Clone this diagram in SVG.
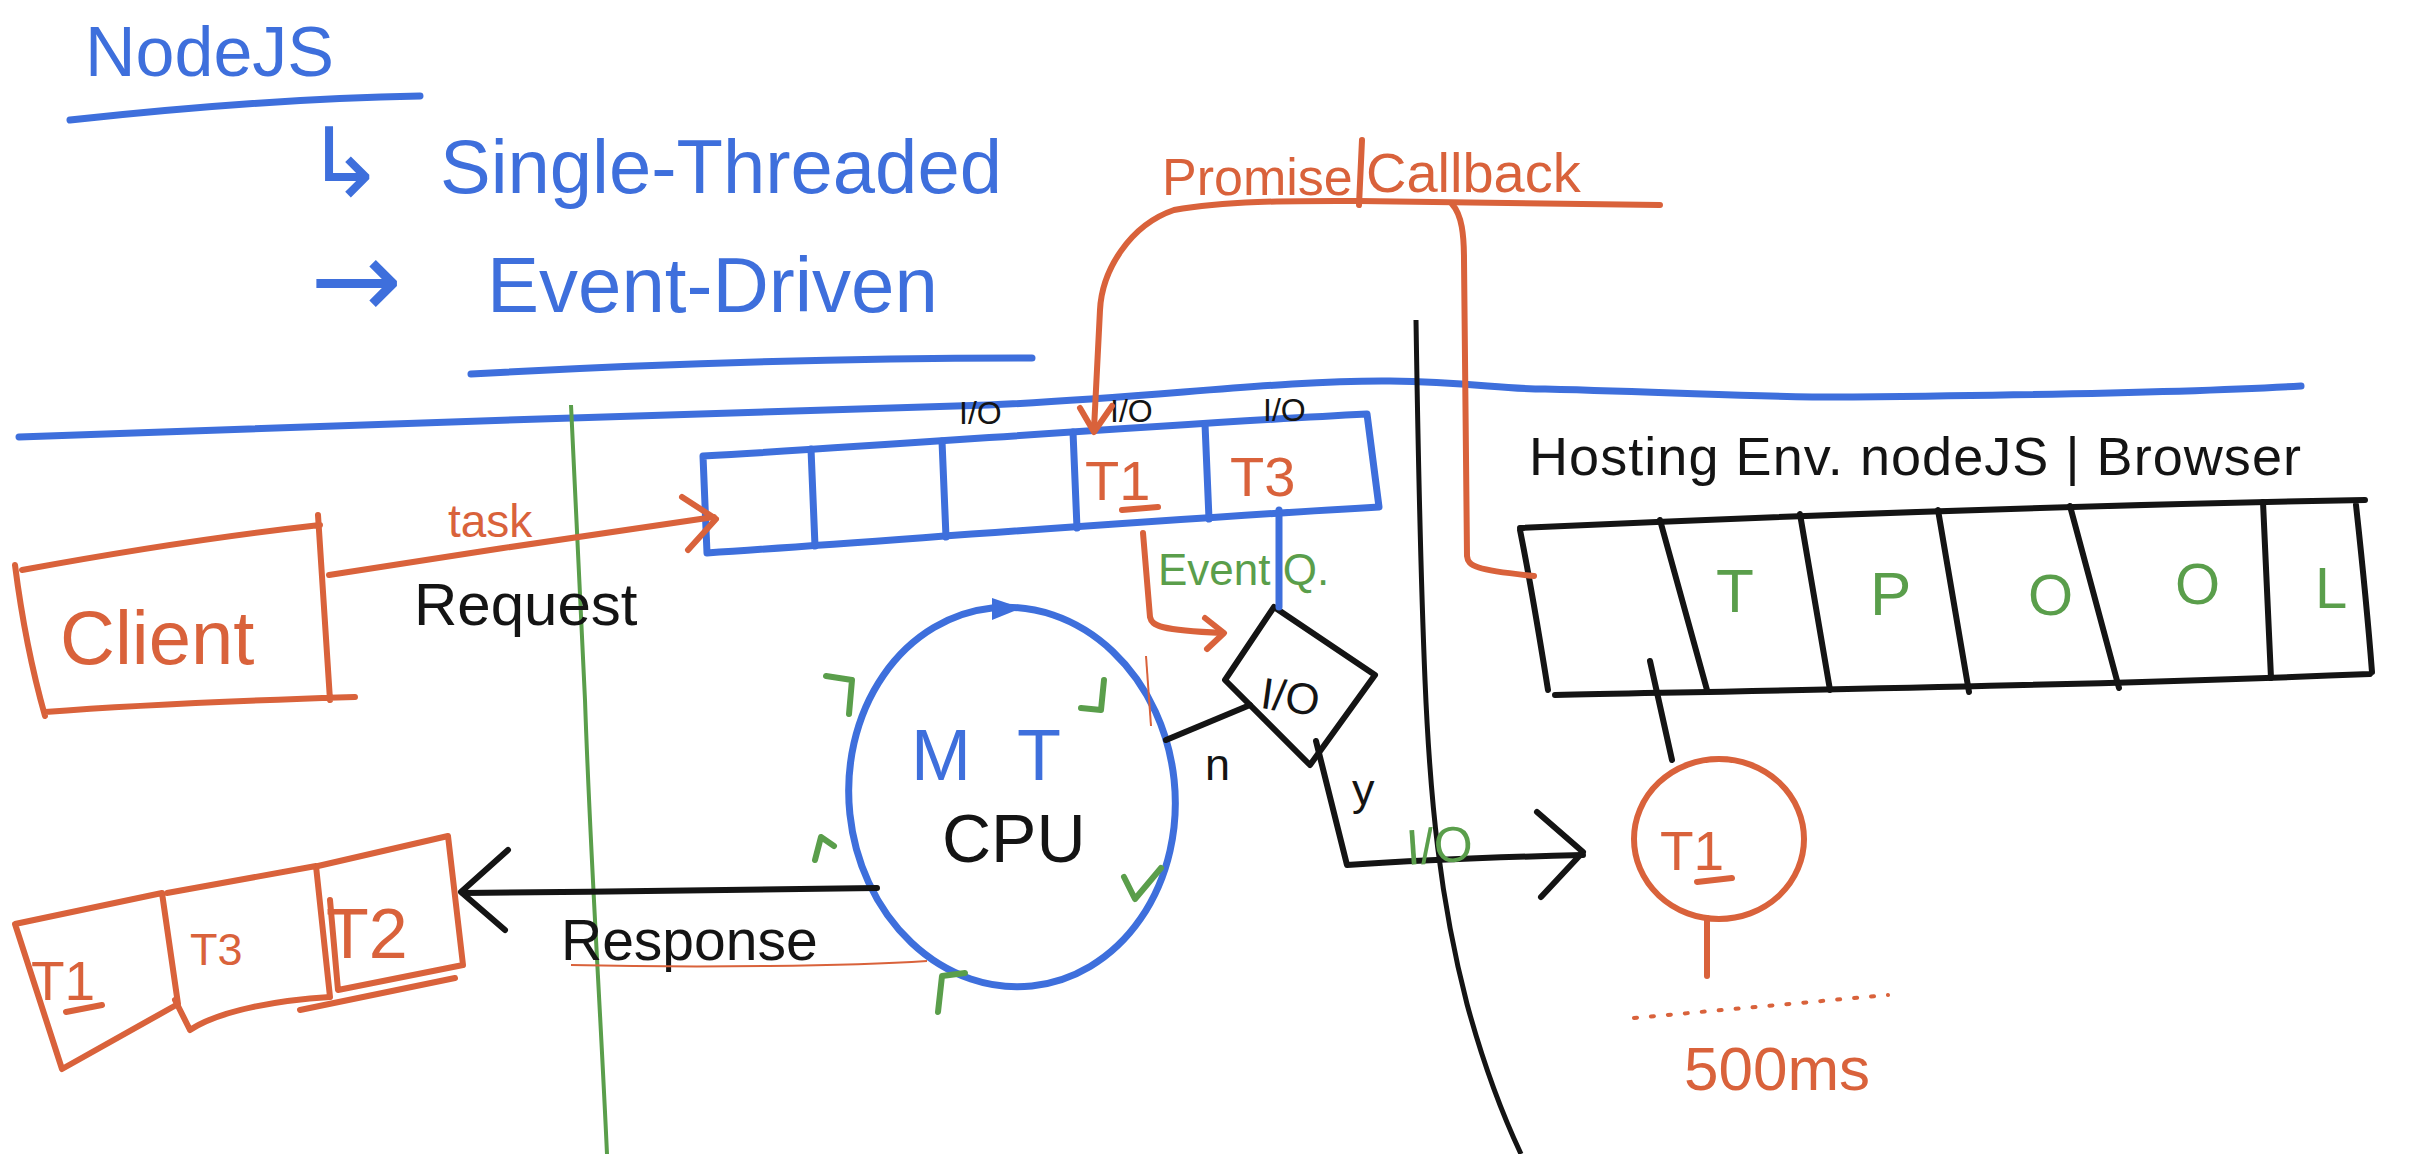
<svg xmlns="http://www.w3.org/2000/svg" width="2422" height="1154" viewBox="0 0 2422 1154">
<style>
.b{stroke:#3e6fdc;fill:none;stroke-width:7;stroke-linecap:round;stroke-linejoin:round}
.o{stroke:#d9623b;fill:none;stroke-width:6;stroke-linecap:round;stroke-linejoin:round}
.g{stroke:#5a9e4b;fill:none;stroke-width:6;stroke-linecap:round;stroke-linejoin:round}
.k{stroke:#141414;fill:none;stroke-width:6;stroke-linecap:round;stroke-linejoin:round}
.t{font-family:"Liberation Sans","DejaVu Sans",sans-serif}
.tb{fill:#3e6fdc}.to{fill:#d9623b}.tg{fill:#5a9e4b}.tk{fill:#141414}
</style>
<rect width="2422" height="1154" fill="#ffffff"/>

<g id="title">
<text class="t tb" x="85" y="76" font-size="70">NodeJS</text>
<path class="b" d="M70,120 C180,108 300,98 420,96"/>
<text class="t tb" font-size="76" y="193"><tspan x="305" y="196" font-size="96" font-family="DejaVu Sans, sans-serif">↳ </tspan><tspan x="440" y="193">Single-Threaded</tspan></text>
<text class="t tb" font-size="78" y="312"><tspan x="310" y="318" font-size="110" font-family="DejaVu Sans, sans-serif">→ </tspan><tspan x="487" y="312">Event-Driven</tspan></text>
<path class="b" d="M471,374 C650,364 850,358 1032,358"/>
</g>

<g id="dividers">
<path class="b" d="M19,437 C300,428 700,412 988,405 C1150,398 1280,380 1390,381 C1470,382 1500,389 1545,389 C1700,393 1780,398 1853,397 C2050,395 2200,392 2301,386"/>
<path stroke="#5a9e4b" stroke-width="4" fill="none" d="M571,405 C576,500 580,600 585,700 C590,850 600,1000 607,1154"/>
<path stroke="#141414" stroke-width="5" fill="none" d="M1416,320 C1418,450 1420,560 1425,680 C1430,800 1440,900 1467,1004 C1485,1070 1505,1120 1521,1154"/>
</g>

<g id="client">
<path class="o" d="M22,570 C120,552 230,535 320,525 M318,515 C322,580 326,640 330,700 M45,712 C150,704 260,700 355,697 M15,565 C22,620 32,670 45,716"/>
<text class="t to" x="60" y="664" font-size="76">Client</text>
</g>

<g id="responses">
<path class="o" d="M15,924 L162,893 L178,1004 L62,1069 Z"/>
<path class="o" d="M167,893 L316,866 L330,997 C280,1000 220,1010 190,1030 L175,1000"/>
<path class="o" d="M318,866 L448,836 L463,965 L338,990 L330,900"/>
<path class="o" d="M300,1010 L455,978"/>
<text class="t to" x="31" y="1000" font-size="55">T1</text>
<path class="o" d="M66,1012 L102,1005"/>
<text class="t to" x="190" y="965" font-size="45">T3</text>
<text class="t to" x="326" y="958" font-size="70">T2</text>
</g>

<g id="queue">
<path class="b" d="M703,456 C900,445 1150,425 1367,414 L1379,507 C1150,520 900,540 707,553 Z"/>
<path class="b" d="M811,449 L815,546 M942,441 L946,537 M1073,432 L1077,528 M1205,424 L1209,519"/>
<text class="t tk" x="959" y="424" font-size="32">I/O</text>
<text class="t tk" x="1110" y="422" font-size="32">I/O</text>
<text class="t tk" x="1263" y="421" font-size="32">I/O</text>
<text class="t to" x="1085" y="500" font-size="56">T1</text>
<path class="o" d="M1122,510 L1158,507"/>
<text class="t to" x="1230" y="496" font-size="56">T3</text>
</g>

<g id="eventloop">
<ellipse class="b" cx="1012" cy="797" rx="163" ry="190" transform="rotate(-6 1012 797)"/>
<path fill="#3e6fdc" d="M992,598 L1022,608 L992,620 Z"/>
<path class="g" d="M826,676 L852,680 L849,714"/>
<path class="g" d="M1104,680 L1101,710 L1081,708"/>
<path class="g" d="M815,860 L821,837 L834,846"/>
<path class="g" d="M1124,877 L1135,899 L1161,868"/>
<path class="g" d="M938,1012 L942,976 L965,973"/>
<text class="t tb" x="911" y="780" font-size="72" textLength="150">MT</text>
<text class="t tk" x="942" y="862" font-size="68">CPU</text>
</g>

<g id="io-decision">
<path class="k" d="M1274,607 L1375,675 L1310,765 L1225,680 Z"/>
<text class="t tk" x="1261" y="712" font-size="44" transform="rotate(8 1290 697)">I/O</text>
</g>

<g id="promise-label">
<text class="t to" x="1162" y="195" font-size="52">Promise</text>
<text class="t to" x="1366" y="192" font-size="56">Callback</text>
</g>

<g id="hosting">
<text class="t tk" x="1529" y="475" font-size="54" textLength="772">Hosting Env. nodeJS | Browser</text>
</g>

<g id="threadpool">
<path class="k" d="M1520,528 C1800,515 2100,505 2365,500 M1555,695 C1800,690 2100,685 2370,674 M1520,530 C1530,580 1540,640 1548,690 M2356,505 C2362,560 2368,620 2372,672"/>
<path class="k" d="M1660,520 L1707,690 M1800,514 L1830,690 M1938,510 L1969,692 M2070,506 L2119,688 M2263,502 L2271,678"/>
<text class="t tg" x="1716" y="612" font-size="62">T</text>
<text class="t tg" x="1870" y="615" font-size="62">P</text>
<text class="t tg" x="2028" y="615" font-size="58">O</text>
<text class="t tg" x="2175" y="604" font-size="58">O</text>
<text class="t tg" x="2315" y="608" font-size="58">L</text>
</g>

<g id="worker-t1">
<ellipse class="o" cx="1719" cy="839" rx="85" ry="80"/>
<text class="t to" x="1660" y="870" font-size="55">T1</text>
<path class="o" d="M1697,882 L1732,878"/>
<path class="o" d="M1707,918 L1707,976"/>
<path stroke="#d9623b" stroke-width="4" stroke-dasharray="3 14" stroke-linecap="round" fill="none" d="M1634,1018 L1888,995"/>
<text class="t to" x="1684" y="1090" font-size="62">500ms</text>
</g>

<g id="connectors">
<path class="o" d="M329,575 C450,556 600,533 714,517"/>
<path class="o" d="M682,497 L716,519 L688,550"/>
<text class="t to" x="448" y="537" font-size="46">task</text>
<text class="t tk" x="414" y="625" font-size="60">Request</text>

<path class="k" d="M877,888 C700,890 600,892 463,893"/>
<path class="k" d="M508,850 L461,892 L505,930"/>
<text class="t tk" x="561" y="960" font-size="57">Response</text>
<path stroke="#d9623b" stroke-width="2" fill="none" d="M571,965 C700,968 850,966 927,961"/>

<path class="o" d="M1094,429 L1100,310 C1102,270 1130,225 1174,210 C1230,200 1300,201 1359,201 L1660,205"/>
<path class="o" d="M1080,408 L1094,432 L1112,406"/>
<path class="o" d="M1362,140 L1359,205"/>
<path class="o" d="M1452,204 C1462,215 1464,235 1464,260 L1467,556 C1468,566 1475,570 1534,576"/>

<path class="o" d="M1143,533 L1150,617 C1152,626 1160,630 1222,633"/>
<path class="o" d="M1205,618 L1224,633 L1207,649"/>
<path stroke="#d9623b" stroke-width="2" fill="none" d="M1146,656 L1151,726"/>
<text class="t tg" x="1158" y="585" font-size="44">Event Q.</text>
<path class="b" d="M1279,510 L1279,607"/>

<path class="k" d="M1166,740 L1250,705"/>
<text class="t tk" x="1205" y="780" font-size="45">n</text>
<path class="k" d="M1316,741 L1347,865 C1420,860 1500,857 1583,855"/>
<path class="k" d="M1537,812 L1583,852 L1541,897"/>
<text class="t tk" x="1352" y="805" font-size="45">y</text>
<text class="t tg" x="1406" y="862" font-size="50" transform="rotate(-4 1450 845)">I/O</text>

<path class="k" d="M1650,661 L1672,760"/>
</g>
</svg>
